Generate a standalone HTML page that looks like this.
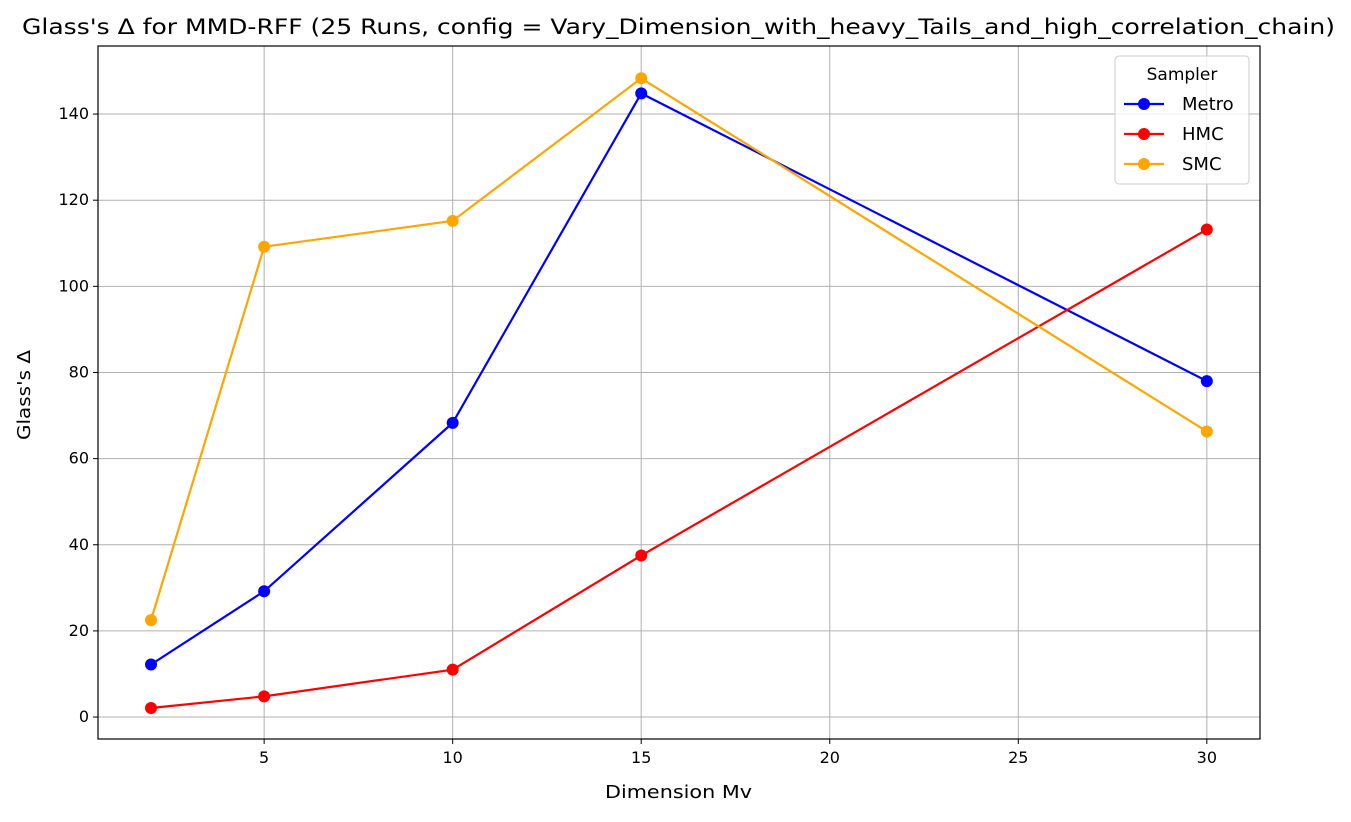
<!DOCTYPE html>
<html><head><meta charset="utf-8"><style>
body{margin:0;background:#fff;font-family:"Liberation Sans","DejaVu Sans",sans-serif;}
svg text{font-family:"DejaVu Sans","Liberation Sans",sans-serif;}
</style></head><body>
<svg id="chart" width="1351" height="817"></svg>
<script>
const dims=[2,5,10,15,30];
const metro=[12.2,29.2,68.3,144.8,78.0];
const hmc=[2.1,4.8,11.0,37.5,113.2];
const smc=[22.5,109.2,115.2,148.3,66.3];
const xTicks=[5,10,15,20,25,30];
const yTicks=[0,20,40,60,80,100,120,140];
const seriesNames=["Metro","HMC","SMC"];
const seriesColors=["#0000ff","#ff0000","#ffa500"];

const L=98,R=1260,T=46,B=739;
const xMin=0.594,xMax=31.41,yMin=-5.1,yMax=155.8;
const xs=v=>L+(v-xMin)/(xMax-xMin)*(R-L);
const ys=v=>B-(v-yMin)/(yMax-yMin)*(B-T);
const NS="http://www.w3.org/2000/svg";
const svg=document.getElementById('chart');
function mk(tag,attrs,parent){const e=document.createElementNS(NS,tag);for(const k in attrs)e.setAttribute(k,attrs[k]);(parent||svg).appendChild(e);return e;}

xTicks.forEach(t=>{const x=xs(t);
 const g=mk('line',{x1:x,x2:x,y1:T,y2:B,stroke:'#b0b0b0','stroke-width':1});
 
 mk('line',{x1:x,x2:x,y1:B,y2:B+5,stroke:'#000'});
 const tx=mk('text',{x:x,y:B+24,'text-anchor':'middle','font-size':16});tx.textContent=t;
 
});
yTicks.forEach(t=>{const y=ys(t);
 const g=mk('line',{x1:L,x2:R,y1:y,y2:y,stroke:'#b0b0b0','stroke-width':1});
 
 mk('line',{x1:L-5,x2:L,y1:y,y2:y,stroke:'#000'});
 const tx=mk('text',{x:L-9,y:y+5,'text-anchor':'end','font-size':16});tx.textContent=t;
 
});
const frame=mk('rect',{x:L,y:T,width:R-L,height:B-T,fill:'none',stroke:'#000','stroke-width':1.2});


[metro,hmc,smc].forEach((vals,i)=>{
 const g=mk('g',{});
 
 
 const pts=dims.map((d,j)=>xs(d)+','+ys(vals[j])).join(' ');
 mk('polyline',{points:pts,fill:'none',stroke:seriesColors[i],'stroke-width':2.2},g);
 dims.forEach((d,j)=>{const c=mk('circle',{cx:xs(d),cy:ys(vals[j]),r:6,fill:seriesColors[i]},g);
  });
});

const title=mk('text',{x:22,y:34,'font-size':21,textLength:1313,lengthAdjust:'spacingAndGlyphs'});
title.textContent="Glass's Δ for MMD-RFF (25 Runs, config = Vary_Dimension_with_heavy_Tails_and_high_correlation_chain)";

const xl=mk('text',{x:605,y:798,'font-size':18,textLength:147,lengthAdjust:'spacingAndGlyphs'});xl.textContent="Dimension Mv";

const yl=mk('text',{x:0,y:0,'font-size':18,textLength:90,lengthAdjust:'spacingAndGlyphs',transform:'translate(30 440) rotate(-90)'});yl.textContent="Glass's Δ";


const lg=mk('g',{});

mk('rect',{x:1115,y:56,width:134,height:128,rx:4,fill:'#fff','fill-opacity':0.8,stroke:'#ccc'},lg);
const lt=mk('text',{x:1182,y:80,'text-anchor':'middle','font-size':17},lg);lt.textContent="Sampler";
const legW=[59,46,45];
seriesNames.forEach((n,i)=>{const y=104+i*30;
 const e=mk('g',{},lg);
 
 mk('line',{x1:1124,x2:1164,y1:y,y2:y,stroke:seriesColors[i],'stroke-width':2.2},e);
 mk('circle',{cx:1144,cy:y,r:6,fill:seriesColors[i]},e);
 const t=mk('text',{x:1182,y:y+6,'font-size':18},e);t.textContent=n;
});
</script>
</body></html>
